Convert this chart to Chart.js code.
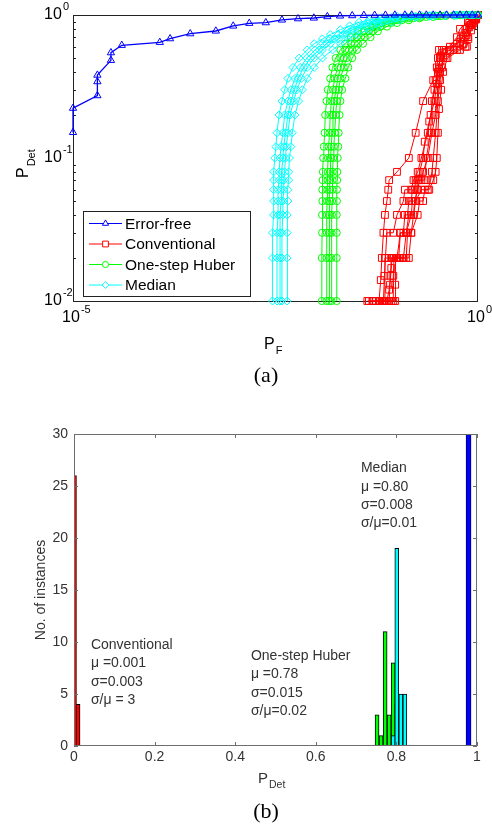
<!DOCTYPE html>
<html lang="en">
<head>
<meta charset="UTF-8">
<title>ROC curves and P_Det histogram</title>
<script src="https://cdn.jsdelivr.net/npm/chart.js"></script>
<style>
    body { margin: 0; background: #fff; }
    #wrap { position: relative; width: 492px; height: 831px; }
    canvas { position: absolute; left: 0; }
    #rocChart { top: 0; }
    #histChart { top: 400px; }
</style>
</head>
<body>
<div id="wrap">
    <canvas id="rocChart" width="492" height="400"></canvas>
    <canvas id="histChart" width="492" height="431"></canvas>
</div>
<script>
// ---- data ----
const seriesNames = ['Error-free', 'Conventional', 'One-step Huber', 'Median'];

// (a) ROC curves, points are [P_F, P_Det]
const rocErrorFree = [
    [1e-5, 0.151], [1e-5, 0.223], [2e-5, 0.273], [2e-5, 0.342], [2e-5, 0.38], [2.94e-5, 0.482],
    [2.94e-5, 0.545], [4e-5, 0.614], [1.18e-4, 0.644], [1.58e-4, 0.683], [2.8e-4, 0.74],
    [5.8e-4, 0.773], [9.5e-4, 0.838], [1.5e-3, 0.875], [2.4e-3, 0.884], [3.8e-3, 0.923],
    [6e-3, 0.942], [9.4e-3, 0.953], [0.0138, 0.975], [0.0198, 0.985], [0.028, 0.99],
    [0.039, 0.995], [0.053, 0.997], [0.072, 0.998], [0.094, 1], [0.125, 1], [0.152, 1],
    [0.19, 1], [0.23, 1], [0.28, 1], [0.34, 1], [0.41, 1], [0.5, 1], [0.6, 1], [0.72, 1],
    [0.85, 1], [1, 1]
];
const rocConventional = [
    [[0.043, 0.01], [0.05, 0.01], [0.06, 0.01], [0.063, 0.014], [0.065, 0.02], [0.068, 0.03],
     [0.071, 0.04], [0.075, 0.05], [0.078, 0.06], [0.08, 0.07], [0.1, 0.08], [0.14, 0.1],
     [0.17, 0.15], [0.21, 0.25], [0.28, 0.35], [0.31, 0.43], [0.32, 0.5], [0.33, 0.57],
     [0.45, 0.6], [0.55, 0.7], [0.6, 0.8], [0.75, 0.9], [0.85, 0.95], [1, 1]],
    [[0.06, 0.01], [0.07, 0.01], [0.08, 0.01], [0.082, 0.013], [0.085, 0.017], [0.087, 0.02],
     [0.1, 0.02], [0.12, 0.02], [0.14, 0.02], [0.15, 0.03], [0.16, 0.04], [0.17, 0.05],
     [0.2, 0.06], [0.24, 0.06], [0.26, 0.07], [0.27, 0.08], [0.28, 0.1], [0.3, 0.15],
     [0.32, 0.25], [0.34, 0.35], [0.36, 0.43], [0.4, 0.5], [0.55, 0.57], [0.7, 0.6],
     [0.75, 0.7], [0.85, 0.85], [0.92, 0.93], [1, 1]],
    [[0.05, 0.01], [0.065, 0.01], [0.075, 0.01], [0.08, 0.012], [0.083, 0.015], [0.085, 0.02],
     [0.1, 0.02], [0.11, 0.03], [0.13, 0.03], [0.14, 0.04], [0.16, 0.04], [0.165, 0.05],
     [0.18, 0.06], [0.19, 0.07], [0.22, 0.07], [0.23, 0.1], [0.26, 0.15], [0.27, 0.25],
     [0.3, 0.35], [0.33, 0.45], [0.35, 0.52], [0.45, 0.57], [0.6, 0.65], [0.7, 0.75],
     [0.8, 0.85], [0.9, 0.92], [1, 1]],
    [[0.07, 0.01], [0.085, 0.01], [0.095, 0.01], [0.095, 0.013], [0.097, 0.02], [0.12, 0.02],
     [0.13, 0.03], [0.15, 0.04], [0.155, 0.05], [0.17, 0.05], [0.175, 0.06], [0.18, 0.07],
     [0.2, 0.07], [0.21, 0.08], [0.24, 0.1], [0.27, 0.15], [0.3, 0.2], [0.32, 0.3],
     [0.34, 0.4], [0.37, 0.5], [0.5, 0.57], [0.65, 0.62], [0.72, 0.72], [0.82, 0.85],
     [0.95, 0.95], [1, 1]],
    [[0.045, 0.01], [0.055, 0.01], [0.068, 0.01], [0.07, 0.015], [0.072, 0.02], [0.075, 0.03],
     [0.09, 0.03], [0.1, 0.04], [0.12, 0.05], [0.125, 0.06], [0.15, 0.06], [0.16, 0.07],
     [0.18, 0.08], [0.2, 0.1], [0.24, 0.15], [0.26, 0.2], [0.29, 0.3], [0.32, 0.4],
     [0.34, 0.5], [0.36, 0.57], [0.55, 0.63], [0.65, 0.7], [0.78, 0.82], [0.88, 0.9], [1, 1]],
    [[0.055, 0.01], [0.062, 0.01], [0.07, 0.01], [0.071, 0.02], [0.09, 0.02], [0.105, 0.02],
     [0.11, 0.03], [0.12, 0.03], [0.125, 0.04], [0.135, 0.04], [0.14, 0.05], [0.15, 0.05],
     [0.155, 0.06], [0.165, 0.06], [0.17, 0.07], [0.185, 0.07], [0.19, 0.08], [0.21, 0.1],
     [0.22, 0.13], [0.25, 0.18], [0.29, 0.25], [0.31, 0.33], [0.33, 0.42], [0.34, 0.5],
     [0.38, 0.57], [0.5, 0.6], [0.62, 0.68], [0.7, 0.8], [0.78, 0.88], [0.9, 0.95], [1, 1]],
    [[0.08, 0.01], [0.09, 0.01], [0.09, 0.015], [0.092, 0.02], [0.11, 0.02], [0.13, 0.02],
     [0.135, 0.03], [0.15, 0.03], [0.18, 0.04], [0.19, 0.05], [0.21, 0.05], [0.22, 0.06],
     [0.25, 0.06], [0.28, 0.07], [0.3, 0.08], [0.31, 0.1], [0.32, 0.15], [0.33, 0.22],
     [0.35, 0.3], [0.37, 0.4], [0.42, 0.5], [0.6, 0.57], [0.73, 0.6], [0.76, 0.68],
     [0.82, 0.78], [0.88, 0.88], [0.95, 0.93], [1, 1]]
];
const rocHuber = [
    [[0.0118, 0.01], [0.0118, 0.02], [0.0119, 0.03], [0.0119, 0.04], [0.012, 0.05], [0.012, 0.06],
     [0.0121, 0.07], [0.0122, 0.08], [0.0123, 0.1], [0.0125, 0.12], [0.0128, 0.15], [0.013, 0.2],
     [0.0135, 0.25], [0.014, 0.3], [0.015, 0.36], [0.016, 0.43], [0.0175, 0.5], [0.02, 0.57],
     [0.023, 0.63], [0.027, 0.7], [0.033, 0.77], [0.042, 0.83], [0.055, 0.88], [0.075, 0.92],
     [0.1, 0.95], [0.15, 0.97], [0.25, 0.985], [0.4, 0.993], [0.65, 1], [1, 1]],
    [[0.0135, 0.01], [0.0135, 0.02], [0.0136, 0.03], [0.0136, 0.04], [0.0137, 0.05], [0.0138, 0.06],
     [0.0139, 0.07], [0.014, 0.08], [0.0141, 0.1], [0.0143, 0.12], [0.0147, 0.15], [0.015, 0.2],
     [0.0155, 0.25], [0.0162, 0.3], [0.017, 0.36], [0.0185, 0.43], [0.02, 0.5], [0.023, 0.57],
     [0.027, 0.63], [0.032, 0.7], [0.039, 0.77], [0.05, 0.83], [0.065, 0.88], [0.09, 0.92],
     [0.12, 0.95], [0.18, 0.97], [0.3, 0.985], [0.5, 0.995], [0.75, 1], [1, 1]],
    [[0.0145, 0.01], [0.0145, 0.02], [0.0146, 0.03], [0.0146, 0.04], [0.0147, 0.05], [0.0148, 0.06],
     [0.0149, 0.07], [0.015, 0.08], [0.0152, 0.1], [0.0154, 0.12], [0.0158, 0.15], [0.0162, 0.2],
     [0.0168, 0.25], [0.0176, 0.3], [0.0186, 0.36], [0.0202, 0.43], [0.022, 0.5], [0.0255, 0.57],
     [0.03, 0.63], [0.036, 0.7], [0.045, 0.77], [0.056, 0.83], [0.075, 0.88], [0.1, 0.92],
     [0.14, 0.95], [0.2, 0.97], [0.32, 0.985], [0.52, 0.995], [0.78, 1], [1, 1]],
    [[0.0155, 0.01], [0.0155, 0.02], [0.0156, 0.03], [0.0157, 0.04], [0.0158, 0.05], [0.0159, 0.06],
     [0.016, 0.07], [0.0161, 0.08], [0.0163, 0.1], [0.0166, 0.12], [0.017, 0.15], [0.0175, 0.2],
     [0.018, 0.25], [0.019, 0.3], [0.02, 0.36], [0.022, 0.43], [0.024, 0.5], [0.028, 0.57],
     [0.033, 0.63], [0.04, 0.7], [0.05, 0.77], [0.063, 0.83], [0.085, 0.88], [0.115, 0.92],
     [0.16, 0.95], [0.23, 0.97], [0.35, 0.985], [0.55, 0.995], [0.8, 1], [1, 1]],
    [[0.018, 0.01], [0.018, 0.02], [0.018, 0.03], [0.018, 0.04], [0.0181, 0.05], [0.0181, 0.06],
     [0.0182, 0.07], [0.0183, 0.08], [0.0185, 0.1], [0.0188, 0.12], [0.019, 0.15], [0.0195, 0.2],
     [0.02, 0.25], [0.021, 0.3], [0.023, 0.36], [0.025, 0.43], [0.028, 0.5], [0.032, 0.57],
     [0.038, 0.63], [0.047, 0.7], [0.058, 0.77], [0.075, 0.83], [0.1, 0.88], [0.14, 0.92],
     [0.19, 0.95], [0.28, 0.97], [0.4, 0.985], [0.6, 0.995], [0.85, 1], [1, 1]]
];
const rocMedian = [
    [[0.0029, 0.01], [0.0029, 0.02], [0.0029, 0.03], [0.003, 0.04], [0.003, 0.05], [0.003, 0.06],
     [0.003, 0.07], [0.003, 0.08], [0.0031, 0.1], [0.0032, 0.12], [0.0033, 0.15], [0.0035, 0.2],
     [0.0038, 0.25], [0.0041, 0.3], [0.0045, 0.36], [0.0052, 0.43], [0.0062, 0.5], [0.0078, 0.57],
     [0.0095, 0.63], [0.012, 0.68], [0.015, 0.73], [0.02, 0.79], [0.026, 0.84], [0.034, 0.89],
     [0.045, 0.92], [0.065, 0.96], [0.1, 0.98], [0.2, 0.99], [0.4, 0.997], [0.7, 1], [1, 1]],
    [[0.0033, 0.01], [0.0033, 0.02], [0.0033, 0.03], [0.0034, 0.04], [0.0034, 0.05], [0.0034, 0.06],
     [0.0035, 0.07], [0.0035, 0.08], [0.0036, 0.1], [0.0037, 0.12], [0.0039, 0.15], [0.0041, 0.2],
     [0.0045, 0.25], [0.0049, 0.3], [0.0055, 0.36], [0.0064, 0.43], [0.0077, 0.5], [0.0098, 0.57],
     [0.012, 0.63], [0.015, 0.68], [0.019, 0.73], [0.025, 0.79], [0.033, 0.84], [0.044, 0.89],
     [0.058, 0.92], [0.085, 0.96], [0.13, 0.98], [0.25, 0.99], [0.5, 0.997], [0.8, 1], [1, 1]],
    [[0.0036, 0.01], [0.0036, 0.02], [0.0036, 0.03], [0.0036, 0.04], [0.0037, 0.05], [0.0037, 0.06],
     [0.0038, 0.07], [0.0038, 0.08], [0.0039, 0.1], [0.004, 0.12], [0.0042, 0.15], [0.0045, 0.2],
     [0.0049, 0.25], [0.0054, 0.3], [0.006, 0.36], [0.0071, 0.43], [0.0086, 0.5], [0.011, 0.57],
     [0.0135, 0.63], [0.017, 0.68], [0.0215, 0.73], [0.028, 0.79], [0.037, 0.84], [0.05, 0.89],
     [0.066, 0.92], [0.095, 0.96], [0.15, 0.98], [0.27, 0.99], [0.52, 0.997], [0.82, 1], [1, 1]],
    [[0.0038, 0.01], [0.0038, 0.02], [0.0038, 0.03], [0.0039, 0.04], [0.0039, 0.05], [0.004, 0.06],
     [0.004, 0.07], [0.0041, 0.08], [0.0042, 0.1], [0.0043, 0.12], [0.0045, 0.15], [0.0048, 0.2],
     [0.0053, 0.25], [0.0058, 0.3], [0.0066, 0.36], [0.0078, 0.43], [0.0095, 0.5], [0.012, 0.57],
     [0.015, 0.63], [0.019, 0.68], [0.024, 0.73], [0.032, 0.79], [0.042, 0.84], [0.057, 0.89],
     [0.075, 0.92], [0.11, 0.96], [0.17, 0.98], [0.3, 0.99], [0.55, 0.997], [0.85, 1], [1, 1]],
    [[0.0044, 0.01], [0.0044, 0.02], [0.0044, 0.03], [0.0044, 0.04], [0.0045, 0.05], [0.0045, 0.06],
     [0.0046, 0.07], [0.0046, 0.08], [0.0047, 0.1], [0.0049, 0.12], [0.0051, 0.15], [0.0055, 0.2],
     [0.0061, 0.25], [0.0068, 0.3], [0.0078, 0.36], [0.0095, 0.43], [0.012, 0.5], [0.016, 0.57],
     [0.02, 0.63], [0.025, 0.68], [0.032, 0.73], [0.045, 0.79], [0.06, 0.84], [0.085, 0.89],
     [0.11, 0.92], [0.17, 0.96], [0.25, 0.98], [0.4, 0.99], [0.65, 0.997], [0.9, 1], [1, 1]]
];
const rocXTicks = [1e-5, 1];
const rocXExp = ['-5', '0'];
const rocYTicks = [0.01, 0.1, 1];
const rocYExp = ['-2', '-1', '0'];

// (b) histogram of P_Det, bin centres and counts
const histErrorFreeX = [0.979];
const histErrorFreeN = [30];
const histConvX = [0.0025, 0.01];
const histConvN = [26, 4];
const histHuberX = [0.752, 0.762, 0.772, 0.782, 0.792, 0.801];
const histHuberN = [3, 1, 11, 3, 8, 4];
const histMedianX = [0.792, 0.801, 0.811, 0.821];
const histMedianN = [1, 19, 5, 5];
const histXTicks = [0, 0.2, 0.4, 0.6, 0.8, 1];
const histXLabels = ['0', '0.2', '0.4', '0.6', '0.8', '1'];
const histYTicks = [0, 5, 10, 15, 20, 25, 30];
const histNotes = [
    ['Conventional', 'μ =0.001', 'σ=0.003', 'σ/μ = 3'],
    ['One-step Huber', 'μ =0.78', 'σ=0.015', 'σ/μ=0.02'],
    ['Median', 'μ =0.80', 'σ=0.008', 'σ/μ=0.01']
];

// ---- styles ----
const colors = ['#0000ff', '#ff0000', '#00ff00', '#00ffff'];
const markers = [
    { style: 'triangle', r: 4.2 },
    { style: 'rect', r: 4.8 },
    { style: 'circle', r: 3.6 },
    { style: 'rectRot', r: 4 }
];
const FONT = 'Arial, "Liberation Sans", sans-serif';
const SERIF = '"Times New Roman", "Liberation Serif", serif';

function toPoints(arr) {
    return arr.map(p => ({ x: p[0], y: p[1] }));
}

function subText(ctx, base, sub, x, y, size, subSize, drop) {
    ctx.font = size + 'px ' + FONT;
    ctx.fillText(base, x, y);
    const w = ctx.measureText(base).width;
    ctx.font = subSize + 'px ' + FONT;
    ctx.fillText(sub, x + w + 1, y + drop);
}

function powText(ctx, exp, x, y) {
    // "10" centred at x, exponent raised after it
    ctx.font = '16px ' + FONT;
    ctx.textAlign = 'left';
    ctx.textBaseline = 'middle';
    const w = ctx.measureText('10').width;
    ctx.fillText('10', x - w / 2, y);
    ctx.font = '11px ' + FONT;
    ctx.fillText(exp, x + w / 2 + 1, y - 8);
}

// ---- (a) ROC chart ----
const rocGroups = [[rocErrorFree], rocConventional, rocHuber, rocMedian];
const rocDatasets = [];
rocGroups.forEach((group, gi) => {
    group.forEach(curve => {
        rocDatasets.push({
            data: toPoints(curve),
            borderColor: colors[gi],
            borderWidth: gi === 0 ? 1.3 : 1,
            pointStyle: markers[gi].style,
            pointRadius: markers[gi].r,
            pointBorderColor: colors[gi],
            pointBackgroundColor: 'rgba(0,0,0,0)',
            pointBorderWidth: 1,
            tension: 0,
            clip: false,
            order: gi === 0 ? 0 : 5 - gi
        });
    });
});

const rocFrame = {
    id: 'rocFrame',
    beforeDatasetsDraw(chart) {
        const { ctx, chartArea: a, scales: { y } } = chart;
        ctx.save();
        ctx.strokeStyle = '#222';
        ctx.lineWidth = 1;
        ctx.strokeRect(a.left + 0.5, a.top + 0.5, a.right - a.left - 1, a.bottom - a.top);
        ctx.beginPath();
        for (let d = 0; d < rocYTicks.length - 1; d++) {
            for (let m = 2; m <= 9; m++) {
                const py = Math.round(y.getPixelForValue(rocYTicks[d] * m)) + 0.5;
                ctx.moveTo(a.left, py); ctx.lineTo(a.left + 3, py);
                ctx.moveTo(a.right, py); ctx.lineTo(a.right - 3, py);
            }
        }
        ctx.stroke();
        ctx.restore();
    },
    afterDraw(chart) {
        const { ctx, chartArea: a, scales: { x, y } } = chart;
        ctx.save();
        ctx.fillStyle = '#000';
        rocYTicks.forEach((v, i) => {
            powText(ctx, rocYExp[i], 53, y.getPixelForValue(v));
        });
        rocXTicks.forEach((v, i) => {
            powText(ctx, rocXExp[i], x.getPixelForValue(v) - 2, a.bottom + 17);
        });

        // axis titles
        ctx.textAlign = 'left';
        ctx.textBaseline = 'alphabetic';
        subText(ctx, 'P', 'F', 264, a.bottom + 48, 16, 11, 5);
        ctx.save();
        ctx.translate(28, 178);
        ctx.rotate(-Math.PI / 2);
        subText(ctx, 'P', 'Det', 0, 0, 16, 11, 7);
        ctx.restore();

        // legend
        const lx = 83, ly = 211, lw = 167, lh = 85;
        ctx.fillStyle = '#fff';
        ctx.fillRect(lx, ly, lw, lh);
        ctx.strokeStyle = '#222';
        ctx.lineWidth = 1;
        ctx.strokeRect(lx + 0.5, ly + 0.5, lw, lh);
        seriesNames.forEach((name, i) => {
            const cy = ly + 12.5 + i * 20.5;
            ctx.strokeStyle = colors[i];
            ctx.beginPath();
            ctx.moveTo(lx + 6, cy); ctx.lineTo(lx + 39, cy);
            ctx.stroke();
            ctx.fillStyle = '#fff';
            Chart.helpers.drawPoint(ctx, {
                pointStyle: markers[i].style, radius: markers[i].r * 0.85,
                borderWidth: 1, rotation: 0
            }, lx + 22.5, cy);
            ctx.fillStyle = '#000';
            ctx.font = '15.5px ' + FONT;
            ctx.textBaseline = 'middle';
            ctx.fillText(name, lx + 42, cy + 1);
        });

        ctx.font = '22px ' + SERIF;
        ctx.textAlign = 'center';
        ctx.textBaseline = 'middle';
        ctx.fillStyle = '#000';
        ctx.fillText('(a)', 266, 376);
        ctx.restore();
    }
};

new Chart(document.getElementById('rocChart'), {
    type: 'line',
    data: { datasets: rocDatasets },
    options: {
        responsive: false,
        animation: false,
        devicePixelRatio: 1,
        layout: { padding: { top: 15, right: 14, left: 0, bottom: 0 } },
        scales: {
            x: {
                type: 'logarithmic', min: 1e-5, max: 1,
                ticks: { display: false }, grid: { display: false }, border: { display: false },
                afterFit(s) { s.height = 99; }
            },
            y: {
                type: 'logarithmic', min: 0.01, max: 1,
                ticks: { display: false }, grid: { display: false }, border: { display: false },
                afterFit(s) { s.width = 73; }
            }
        },
        plugins: { legend: { display: false }, tooltip: { enabled: false } }
    },
    plugins: [rocFrame]
});

// ---- (b) histogram ----
function histSet(xs, ns, gi, thickness, order, edge) {
    return {
        data: xs.map((v, i) => ({ x: v, y: ns[i] })),
        backgroundColor: colors[gi],
        borderColor: edge || '#000',
        borderWidth: 1,
        barThickness: thickness,
        grouped: false,
        order: order
    };
}

const histDatasets = [
    histSet(histErrorFreeX, histErrorFreeN, 0, 5, 1, '#000060'),
    histSet(histConvX.slice(0, 1), histConvN.slice(0, 1), 1, 3, 2, '#600000'),
    histSet(histConvX.slice(1), histConvN.slice(1), 1, 4, 3),
    histSet(histMedianX, histMedianN, 3, 4, 4),
    histSet(histHuberX, histHuberN, 2, 4, 5)
];

const histFrame = {
    id: 'histFrame',
    afterDatasetsDraw(chart) {
        const { ctx, chartArea: a, scales: { x, y } } = chart;
        ctx.save();
        ctx.strokeStyle = '#6e6e6e';
        ctx.lineWidth = 1;
        ctx.strokeRect(a.left + 0.5, a.top + 0.5, a.right - a.left - 1, a.bottom - a.top - 1);
        ctx.beginPath();
        histXTicks.forEach(v => {
            const px = Math.round(x.getPixelForValue(v)) + 0.5;
            ctx.moveTo(px, a.bottom); ctx.lineTo(px, a.bottom - 4);
            ctx.moveTo(px, a.top); ctx.lineTo(px, a.top + 4);
        });
        histYTicks.forEach(v => {
            const py = Math.round(y.getPixelForValue(v)) + 0.5;
            ctx.moveTo(a.left, py); ctx.lineTo(a.left + 4, py);
            ctx.moveTo(a.right, py); ctx.lineTo(a.right - 4, py);
        });
        ctx.stroke();

        ctx.fillStyle = '#333';
        ctx.font = '14px ' + FONT;
        ctx.textAlign = 'center';
        ctx.textBaseline = 'middle';
        histXTicks.forEach((v, i) => ctx.fillText(histXLabels[i], x.getPixelForValue(v), a.bottom + 11));
        ctx.textAlign = 'right';
        histYTicks.forEach(v => ctx.fillText(String(v), a.left - 6, y.getPixelForValue(v)));

        // axis titles
        ctx.textAlign = 'left';
        ctx.textBaseline = 'alphabetic';
        subText(ctx, 'P', 'Det', 258, a.bottom + 37, 15, 10.5, 5);
        ctx.save();
        ctx.translate(41, (a.top + a.bottom) / 2);
        ctx.rotate(-Math.PI / 2);
        ctx.textAlign = 'center';
        ctx.textBaseline = 'middle';
        ctx.font = '14px ' + FONT;
        ctx.fillText('No. of instances', 0, 0);
        ctx.restore();

        // statistics notes, anchored in data units
        const anchors = [[0.042, 9.7], [0.439, 8.65], [0.712, 26.7]];
        ctx.font = '14px ' + FONT;
        ctx.textAlign = 'left';
        ctx.textBaseline = 'middle';
        histNotes.forEach((lines, k) => {
            const px = x.getPixelForValue(anchors[k][0]);
            const py = y.getPixelForValue(anchors[k][1]);
            lines.forEach((t, j) => ctx.fillText(t, px, py + j * 18.4));
        });

        // legend
        const lx = 83, ly = 439, lw = 155, lh = 81;
        ctx.fillStyle = '#fff';
        ctx.fillRect(lx, ly, lw, lh);
        ctx.strokeStyle = '#111';
        ctx.strokeRect(lx + 0.5, ly + 0.5, lw, lh);
        seriesNames.forEach((name, i) => {
            const cy = ly + 13 + i * 19.8;
            ctx.fillStyle = colors[i];
            ctx.fillRect(lx + 6, cy - 7, 38, 14);
            ctx.strokeStyle = '#000';
            ctx.strokeRect(lx + 6.5, cy - 6.5, 37, 13);
            ctx.fillStyle = '#333';
            ctx.fillText(name, lx + 47, cy + 1);
        });

        ctx.font = '22px ' + SERIF;
        ctx.textAlign = 'center';
        ctx.fillStyle = '#000';
        ctx.fillText('(b)', 266, 412);
        ctx.restore();
    }
};

new Chart(document.getElementById('histChart'), {
    type: 'bar',
    data: { datasets: histDatasets },
    options: {
        responsive: false,
        animation: false,
        devicePixelRatio: 1,
        layout: { padding: { top: 34, right: 15, left: 0, bottom: 0 } },
        scales: {
            x: {
                type: 'linear', min: 0, max: 1, offset: false,
                ticks: { display: false }, grid: { display: false }, border: { display: false },
                afterFit(s) { s.height = 85; }
            },
            y: {
                min: 0, max: 30,
                ticks: { display: false }, grid: { display: false }, border: { display: false },
                afterFit(s) { s.width = 74; }
            }
        },
        plugins: { legend: { display: false }, tooltip: { enabled: false } }
    },
    plugins: [histFrame]
});
</script>
</body>
</html>
